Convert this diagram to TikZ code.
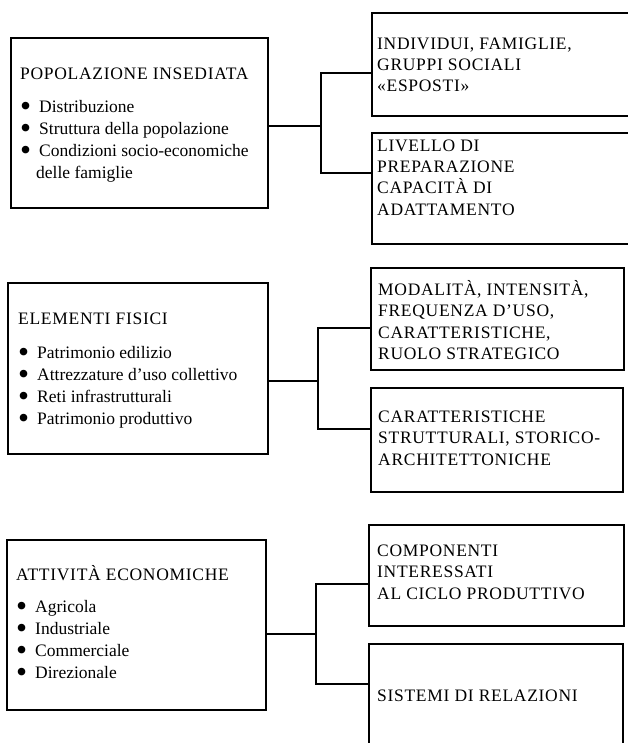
\documentclass[tikz,border=0pt]{standalone}
\usepackage{fontspec}
\usepackage{graphicx}
\setmainfont{Liberation Serif}
\newfontfamily\capf{Liberation Serif}[LetterSpace=4]
\usetikzlibrary{fit}
\newcommand\bul{\smash{\raisebox{-4.6pt}{\scalebox{1.8}{\textbullet}}}\hspace{8pt}}
\newcommand\bulsp{\phantom{\scalebox{1.8}{\textbullet}}\hspace{5pt}}
\begin{document}
\begin{tikzpicture}[x=1pt,y=-1pt,
  box/.style={draw, line width=1.4pt, inner sep=0pt},
  txt/.style={anchor=north west, inner sep=0pt, align=left, font=\fontsize{17.5}{22}\selectfont},
  rtxt/.style={anchor=north west, inner sep=0pt, align=left, font=\capf\fontsize{17.5}{21.4}\selectfont},
  link/.style={line width=1.4pt}]
\useasboundingbox (0,0) rectangle (627,743);

% left boxes
\node[box, fit={(11,38) (268,208)}] (p) {};
\node[box, fit={(8,283) (268,454)}] (e) {};
\node[box, fit={(7,540) (266,710)}] (a) {};

% right boxes
\node[box, fit={(372,13) (636,116)}] (r1) {};
\node[box, fit={(372,133) (636,244)}] (r2) {};
\node[box, fit={(371,268) (624,370)}] (r3) {};
\node[box, fit={(371,388) (623,492)}] (r4) {};
\node[box, fit={(369,525) (624,626)}] (r5) {};
\node[box, fit={(369,644) (623,760)}] (r6) {};

% left texts
\node[txt] (pt) at (20,{79-15.4}) {\strut{\capf POPOLAZIONE INSEDIATA}\\[11pt]
\bul Distribuzione\\
\bul Struttura della popolazione\\
\bul Condizioni socio-economiche\\
\bulsp delle famiglie};
\node[txt] (et) at (18,{324-15.4}) {\strut{\capf ELEMENTI FISICI}\\[12pt]
\bul Patrimonio edilizio\\
\bul Attrezzature d’uso collettivo\\
\bul Reti infrastrutturali\\
\bul Patrimonio produttivo};
\node[txt] (at) at (16,{580-15.4}) {\strut{\capf ATTIVITÀ ECONOMICHE}\\[10pt]
\bul Agricola\\
\bul Industriale\\
\bul Commerciale\\
\bul Direzionale};

% right texts
\node[rtxt] (r1t) at (377,{49-14.98}) {\strut INDIVIDUI, FAMIGLIE,\\ GRUPPI SOCIALI\\ «ESPOSTI»};
\node[rtxt] (r2t) at (377,{151-14.98}) {\strut LIVELLO DI\\ PREPARAZIONE\\ CAPACITÀ DI\\ ADATTAMENTO};
\node[rtxt] (r3t) at (378,{295-14.98}) {\strut MODALITÀ, INTENSITÀ,\\ FREQUENZA D’USO,\\ CARATTERISTICHE,\\ RUOLO STRATEGICO};
\node[rtxt] (r4t) at (378,{422-14.98}) {\strut CARATTERISTICHE\\ STRUTTURALI, STORICO-\\ ARCHITETTONICHE};
\node[rtxt] (r5t) at (377,{556-14.98}) {\strut COMPONENTI\\ INTERESSATI\\ AL CICLO PRODUTTIVO};
\node[rtxt] (r6t) at (377,{701-14.98}) {\strut SISTEMI DI RELAZIONI};

% connectors
\coordinate (pm) at (321,126);
\coordinate (pa) at (321,73);
\coordinate (pb) at (321,173);
\draw[link] (p.east |- pm) -- (pm);
\draw[link] (r1.west |- pa) -- (pa) -- (pb) -- (r2.west |- pb);

\coordinate (em) at (318,381);
\coordinate (ea) at (318,328);
\coordinate (eb) at (318,429);
\draw[link] (e.east |- em) -- (em);
\draw[link] (r3.west |- ea) -- (ea) -- (eb) -- (r4.west |- eb);

\coordinate (am) at (316,634);
\coordinate (aa) at (316,584);
\coordinate (ab) at (316,684);
\draw[link] (a.east |- am) -- (am);
\draw[link] (r5.west |- aa) -- (aa) -- (ab) -- (r6.west |- ab);
\end{tikzpicture}
\end{document}
